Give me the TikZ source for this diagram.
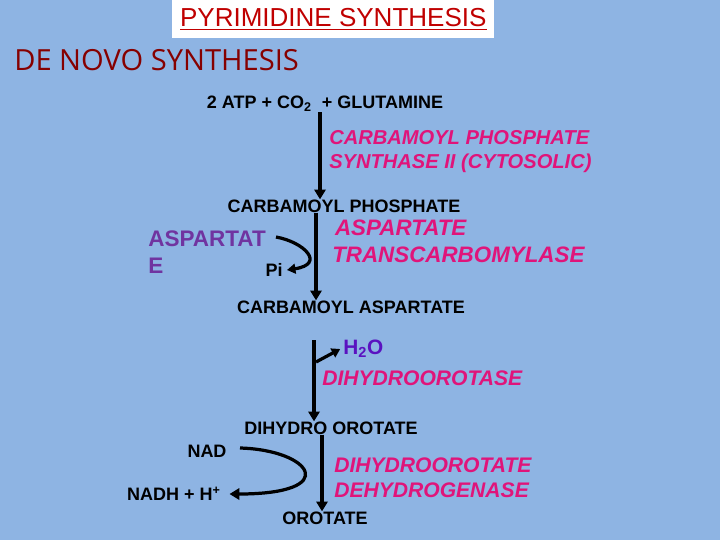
\documentclass[tikz,border=0pt]{standalone}
\usepackage{fontspec}
\setmainfont{Liberation Sans}
\newfontfamily\opensans{Open Sans}
\usetikzlibrary{arrows.meta}
\definecolor{bgblue}{HTML}{8EB4E3}
\definecolor{enzpink}{HTML}{E0147A}
\definecolor{asppurple}{HTML}{7034A0}
\definecolor{waterpurple}{HTML}{5A12C0}
\definecolor{titlered}{HTML}{C00000}
\begin{document}
\begin{tikzpicture}[x=0.025cm,y=-0.025cm,
		metab/.style={font=\bfseries\fontsize{12.8}{14}\selectfont,inner sep=0pt},
		enzyme/.style={font=\bfseries\itshape\fontsize{14.3}{17}\selectfont,text=enzpink,align=left,inner sep=0pt},
		big enzyme/.style={enzyme,font=\bfseries\itshape\fontsize{15}{17.5}\selectfont},
		step arrow/.style={line width=2.3pt,-{Triangle[length=7pt,width=8pt]}}]
		\fill[bgblue] (0,0) rectangle (720,540);
		\node[fill=white,text=titlered,font=\fontsize{18.5}{20}\selectfont,minimum width=322*0.025cm,minimum height=38*0.025cm,anchor=north west,inner sep=0pt] (title) at (172,0) {\underline{PYRIMIDINE SYNTHESIS}};
		\node[anchor=west,text=titlered!70!black,font=\opensans\fontsize{20.7}{22}\selectfont,inner sep=0pt] (denovo) at (14,60) {DE NOVO SYNTHESIS};

		\node[metab] (start) at (325,104) {2 ATP + CO\textsubscript{2}\ \ + GLUTAMINE};
		\node[enzyme,anchor=west] (cps) at (329,152) {CARBAMOYL PHOSPHATE\\SYNTHASE II (CYTOSOLIC)};
		\node[metab] (cp) at (344,206) {CARBAMOYL PHOSPHATE};
		\node[font=\bfseries\fontsize{16}{19}\selectfont,text=asppurple,align=left,anchor=west,inner sep=0pt] (asp) at (148,252) {ASPARTAT\\E};
		\node[metab] (pi) at (274,270) {Pi};
		\node[enzyme,font=\bfseries\itshape\fontsize{15.9}{19}\selectfont,anchor=west] (atc) at (332,241) {\hspace*{2pt}ASPARTATE\\TRANSCARBOMYLASE};
		\node[metab] (ca) at (351,307) {CARBAMOYL ASPARTATE};
		\node[font=\bfseries\fontsize{14.8}{17}\selectfont,text=waterpurple,anchor=west,inner sep=0pt] (water) at (343,349) {H\textsubscript{2}O};
		\node[big enzyme,anchor=west] (dho) at (322,378) {DIHYDROOROTASE};
		\node[metab] (dhor) at (331,428) {DIHYDRO OROTATE};
		\node[metab] (nad) at (207,451) {NAD};
		\node[metab] (nadh) at (174,494) {NADH + H\textsuperscript{+}};
		\node[big enzyme,anchor=west] (dhodh) at (334,478) {DIHYDROOROTATE\\DEHYDROGENASE};
		\node[metab] (oro) at (325,518) {OROTATE};

		\coordinate (dhotop) at (314,340);
		\coordinate (waterfoot) at (316,362);
		\coordinate (aspstart) at (276,237);
		\coordinate (nadstart) at (240,448);
		\draw[step arrow] (start.south -| 320,0) -- (cp.north -| 320,0);
		\draw[step arrow] (cp.south -| 316,0) -- (ca.north -| 316,0);
		\draw[step arrow] (dhotop) -- (dhor.north -| 314,0);
		\draw[step arrow] (dhor.south -| 322,0) -- (oro.north -| 322,0);
		\draw[line width=2.3pt,-{Triangle[length=6pt,width=7pt]}] (waterfoot) -- ([xshift=-2pt]water.west);
		\draw[line width=2.3pt,-{Triangle[length=6pt,width=7pt]}] (aspstart)
			.. controls (304,242) and (326,264) .. ([xshift=3pt]pi.east);
		\draw[line width=2.3pt,-{Triangle[length=7pt,width=8pt]}] (nadstart)
			.. controls (312,450) and (342,494) .. ([xshift=6pt]nadh.east);
\end{tikzpicture}
\end{document}
